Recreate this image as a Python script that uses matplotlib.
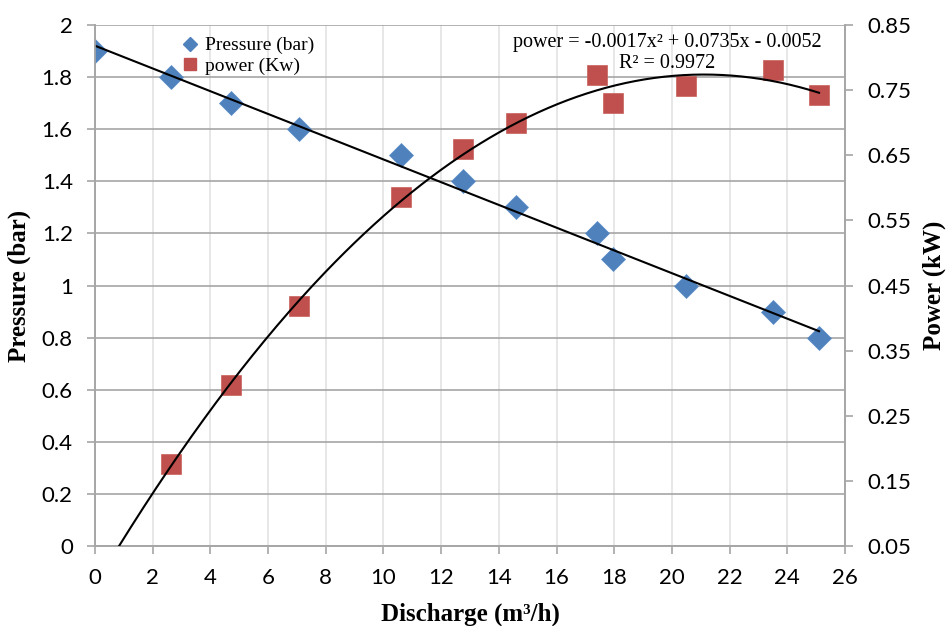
import numpy as np
import matplotlib.pyplot as plt
from matplotlib.lines import Line2D

# data
discharge = [0, 2.63, 4.71, 7.07, 10.6, 12.76, 14.6, 17.4, 17.95, 20.5, 23.5, 25.1]
pressure = [1.9, 1.8, 1.7, 1.6, 1.5, 1.4, 1.3, 1.2, 1.1, 1.0, 0.9, 0.8]
power_x = [2.63, 4.71, 7.07, 10.6, 12.76, 14.6, 17.4, 17.95, 20.5, 23.5, 25.1]
power = [0.176, 0.297, 0.418, 0.586, 0.660, 0.700, 0.773, 0.730, 0.756, 0.781, 0.742]

blue = '#4F81BD'
red = '#C0504D'
grid_dark = '#A6A6A6'
grid_light = '#E3E3E3'
tick_font = 'Lato'
serif = 'Liberation Serif'

fig = plt.figure(figsize=(9.49, 6.26), dpi=100)
ax = fig.add_axes([0.1001, 0.1278, 0.7903, 0.8322])
ax2 = ax.twinx()

# gridlines
ax.set_axisbelow(True)
ax.yaxis.grid(True, color=grid_dark, lw=1.2)
ax.xaxis.grid(True, color=grid_light, lw=1.2)

# pressure
ax.plot(discharge, pressure, 'D', color=blue, ms=12, mec='#5B8CC8', mew=0.5, zorder=3)
k, b = np.polyfit(discharge, pressure, 1)
xl = np.array([discharge[0], discharge[-1]])
ax.plot(xl, k * xl + b, color='black', lw=1.5, zorder=4)

# power on right axis
ax2.plot(power_x, power, 's', color=red, ms=14, mec='#C8605D', mew=0.5, zorder=3)
c2, c1, c0 = np.polyfit(power_x, power, 2)
xq = np.linspace(0, power_x[-1], 300)
ax2.plot(xq, c2 * xq**2 + c1 * xq + c0, color='black', lw=1.5, zorder=4)

ax.set_xlim(0, 26)
ax.set_ylim(0, 2)
ax2.set_ylim(0.05, 0.85)
ax.set_xticks(np.arange(0, 27, 2))
ax.set_yticks(np.arange(0, 2.01, 0.2))
ax.set_yticklabels(['0', '0.2', '0.4', '0.6', '0.8', '1', '1.2', '1.4', '1.6', '1.8', '2'])
ax2.set_yticks(np.arange(0.05, 0.86, 0.1))
ax2.set_yticklabels(['0.05', '0.15', '0.25', '0.35', '0.45', '0.55', '0.65', '0.75', '0.85'])

for a in (ax, ax2):
    for s in a.spines.values():
        s.set_color(grid_dark)
        s.set_linewidth(1.2)
    a.spines['top'].set_visible(False)
    a.tick_params(colors=grid_dark, labelcolor='black', length=6, width=1.2,
                  labelsize=16, pad=10)
    for lbl in a.get_xticklabels() + a.get_yticklabels():
        lbl.set_fontfamily(tick_font)

ax.set_xlabel('Discharge (m³/h)', fontfamily=serif, fontweight='bold', fontsize=18, labelpad=10)
ax.set_ylabel('Pressure (bar)', fontfamily=serif, fontweight='bold', fontsize=18, labelpad=8)
ax2.set_ylabel('Power (kW)', fontfamily=serif, fontweight='bold', fontsize=18, labelpad=8)

handles = [Line2D([], [], marker='D', color=blue, ls='none', ms=7),
           Line2D([], [], marker='s', color=red, ls='none', ms=8)]
ax.legend(handles, ['Pressure (bar)', 'power (Kw)'], loc='upper left',
          bbox_to_anchor=(0.085, 1.0), frameon=False, handletextpad=-0.2,
          borderaxespad=0.2, labelspacing=0.15,
          prop={'family': serif, 'size': 14})

ax.text(0.763, 0.985, 'power = -0.0017x² + 0.0735x - 0.0052', transform=ax.transAxes,
        ha='center', va='top', fontfamily=serif, fontsize=14.5)
ax.text(0.763, 0.945, 'R² = 0.9972', transform=ax.transAxes,
        ha='center', va='top', fontfamily=serif, fontsize=14.5)

fig.savefig('out.png', dpi=100)
